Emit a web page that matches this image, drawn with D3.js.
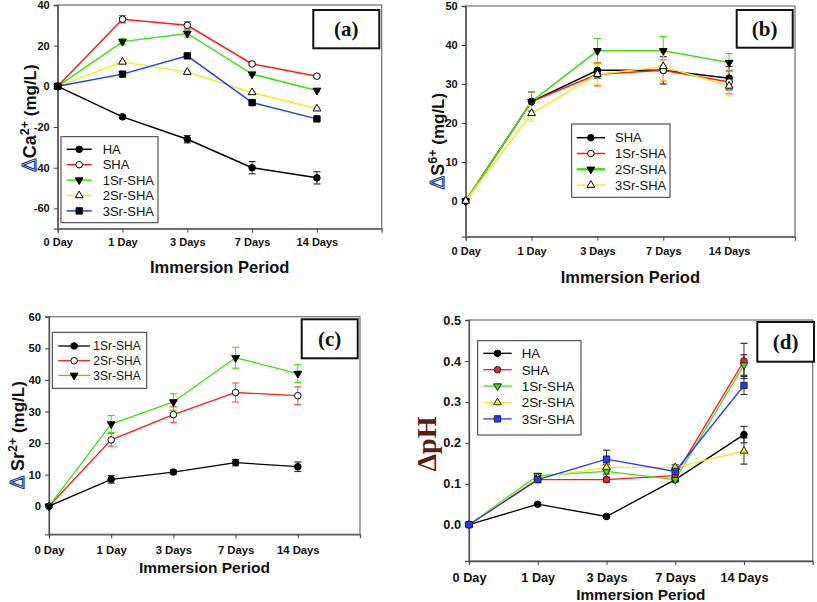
<!DOCTYPE html>
<html><head><meta charset="utf-8">
<script src="https://cdn.jsdelivr.net/npm/d3@7"></script>
<style>body{margin:0;background:#fff}svg{display:block}</style>
</head><body>
<svg id="c" width="817" height="602"></svg>
<script>
// ---------- DATA ----------
const days = ["0 Day", "1 Day", "3 Days", "7 Days", "14 Days"];

// (a) ΔCa2+
const caNames = ["HA", "SHA", "1Sr-SHA", "2Sr-SHA", "3Sr-SHA"];
const caHA = [0, -15, -26, -40, -45];
const caHAErr = [0, 0.8, 1.8, 3, 3];
const caSHA = [0, 33, 30, 11, 5];
const caSHAErr = [0, 1.8, 1.8, 0.6, 0.6];
const ca1Sr = [0, 22, 26, 6, -2];
const ca1SrErr = [0, 1.5, 1.8, 0.6, 0.6];
const ca2Sr = [0, 12, 7, -3, -11];
const ca2SrErr = [0, 0.6, 0.6, 0.6, 0.6];
const ca3Sr = [0, 6, 15, -8, -16];
const ca3SrErr = [0, 0.6, 0.8, 0.6, 0.6];
const caTicks = [-60, -40, -20, 0, 20, 40];

// (b) ΔS6+
const sNames = ["SHA", "1Sr-SHA", "2Sr-SHA", "3Sr-SHA"];
const sSHA = [0, 25.5, 33.5, 33.5, 31.5];
const sSHAErr = [0, 2.5, 2, 3.5, 3];
const s1Sr = [0, 25.5, 32.5, 33.5, 30.5];
const s1SrErr = [0, 2.5, 3, 2.7, 3];
const s2Sr = [0, 25.5, 38.5, 38.5, 35.5];
const s2SrErr = [0, 2.5, 3.2, 3.7, 2.3];
const s3Sr = [0, 22.5, 32.5, 34.5, 29.5];
const s3SrErr = [0, 2, 2.5, 3.5, 2.5];
const sTicks = [0, 10, 20, 30, 40, 50];

// (c) ΔSr2+
const srNames = ["1Sr-SHA", "2Sr-SHA", "3Sr-SHA"];
const sr1Sr = [0, 8.5, 10.8, 13.8, 12.5];
const sr1SrErr = [0, 1.2, 0.6, 1, 1.5];
const sr2Sr = [0, 21, 29, 36, 35];
const sr2SrErr = [0, 2, 2.5, 3, 2.8];
const sr3Sr = [0, 26, 33, 47, 42];
const sr3SrErr = [0, 2.7, 2.6, 3.3, 2.8];
const srTicks = [0, 10, 20, 30, 40, 50, 60];

// (d) ΔpH
const phNames = ["HA", "SHA", "1Sr-SHA", "2Sr-SHA", "3Sr-SHA"];
const phHA = [0, 0.05, 0.02, 0.11, 0.22];
const phHAErr = [0, 0.004, 0.004, 0.005, 0.02];
const phSHA = [0, 0.11, 0.11, 0.12, 0.40];
const phSHAErr = [0, 0.005, 0.006, 0.006, 0.043];
const ph1Sr = [0, 0.12, 0.13, 0.11, 0.39];
const ph1SrErr = [0, 0.005, 0.006, 0.005, 0.025];
const ph2Sr = [0, 0.115, 0.14, 0.14, 0.18];
const ph2SrErr = [0, 0.005, 0.008, 0.006, 0.032];
const ph3Sr = [0, 0.11, 0.16, 0.13, 0.34];
const ph3SrErr = [0, 0.006, 0.022, 0.01, 0.022];
const phTicks = [0, 0.1, 0.2, 0.3, 0.4, 0.5];

// ---------- STYLE ----------
const RED = "#ff1c1c", GREEN = "#3fe01a", YEL = "#eeee22", BLUE = "#1f3cff", BLK = "#000";
const svg = d3.select("#c");

function marker(g, type, x, y, fill, stroke) {
  const shapes = {
    circle: [d3.symbolCircle, 34, 0],
    tdown: [d3.symbolTriangle, 26, 180],
    tup: [d3.symbolTriangle, 26, 0],
    square: [d3.symbolSquare, 40, 0]
  };
  const s = shapes[type];
  g.append("path").attr("d", d3.symbol().type(s[0]).size(s[1])())
    .attr("transform", `translate(${x},${y}) rotate(${s[2]})`)
    .attr("fill", fill).attr("stroke", stroke).attr("stroke-width", 1);
}

function panel(p) {
  const g = svg.append("g");
  const x = d3.scaleLinear().domain([0, 5]).range([p.x0, p.x1]);
  const y = d3.scaleLinear().domain(p.yDomain).range([p.y1, p.y0]);
  // frame
  g.append("rect").attr("x", p.x0).attr("y", p.y0).attr("width", p.x1 - p.x0).attr("height", p.y1 - p.y0)
    .attr("fill", "none").attr("stroke", "#7a7a7a").attr("stroke-width", 1.3);
  // axes
  const yAx = d3.axisLeft(y).tickValues(p.ticks).tickSize(4).tickPadding(4).tickFormat(p.fmt);
  const ya = g.append("g").attr("transform", `translate(${p.x0},0)`).call(yAx);
  ya.select(".domain").attr("stroke", "#555").attr("stroke-width", 1.3);
  ya.selectAll(".tick line").attr("stroke", "#444");
  ya.selectAll("text").attr("font-family", "Arial, 'Liberation Sans', sans-serif").attr("font-weight", "bold")
    .attr("font-size", p.tickFont).attr("fill", "#111");
  const xAx = d3.axisBottom(x).tickValues([0, 1, 2, 3, 4]).tickSize(4).tickPadding(p.xPad).tickFormat(i => days[i]);
  const xa = g.append("g").attr("transform", `translate(0,${p.y1})`).call(xAx);
  xa.select(".domain").attr("stroke", "#555").attr("stroke-width", 1.3);
  xa.selectAll(".tick line").attr("stroke", "#444");
  xa.selectAll("text").attr("font-family", "Arial, 'Liberation Sans', sans-serif").attr("font-weight", "bold")
    .attr("font-size", p.tickFont).attr("fill", "#111");

  // series
  p.series.forEach(s => {
    const pts = s.v.map((v, i) => [x(i), y(v)]);
    s.e.forEach((e, i) => {
      if (e <= 0) return;
      const cx = x(i), t = y(s.v[i] + e), b = y(s.v[i] - e);
      const ec = s.ec || s.color;
      g.append("line").attr("x1", cx).attr("x2", cx).attr("y1", t).attr("y2", b).attr("stroke", ec).attr("stroke-width", 1);
      [t, b].forEach(yy => g.append("line").attr("x1", cx - 3.5).attr("x2", cx + 3.5).attr("y1", yy).attr("y2", yy)
        .attr("stroke", ec).attr("stroke-width", 1.2));
    });
    g.append("path").attr("d", d3.line()(pts)).attr("fill", "none").attr("stroke", s.color).attr("stroke-width", p.lw);
  });
  p.series.forEach(s => {
    s.v.forEach((v, i) => marker(g, s.m, x(i), y(v), s.mf, s.ms));
  });

  // legend
  const L = p.legend;
  g.append("rect").attr("x", L.x).attr("y", L.y).attr("width", L.w).attr("height", L.h)
    .attr("fill", "#fff").attr("stroke", "#333").attr("stroke-width", 1);
  p.series.forEach((s, i) => {
    const yy = L.r0 + i * L.dy;
    g.append("line").attr("x1", L.lx0).attr("x2", L.lx1).attr("y1", yy).attr("y2", yy)
      .attr("stroke", s.color).attr("stroke-width", p.lw + (s.lwExtra || 0));
    marker(g, s.m, (L.lx0 + L.lx1) / 2, yy, s.mf, s.ms);
    g.append("text").attr("x", L.tx).attr("y", yy).attr("dy", "0.36em").text(s.name)
      .attr("font-family", "Arial, 'Liberation Sans', sans-serif").attr("font-size", L.fs).attr("fill", "#111");
  });

  // label box
  const B = p.box;
  g.append("rect").attr("x", B.x).attr("y", B.y).attr("width", B.w).attr("height", B.h)
    .attr("fill", "#fff").attr("stroke", "#111").attr("stroke-width", 2);
  g.append("text").attr("x", B.x + B.w / 2).attr("y", B.y + B.h / 2).attr("dy", "0.34em").attr("text-anchor", "middle")
    .attr("font-family", "'Liberation Serif', 'Times New Roman', serif").attr("font-weight", "bold")
    .attr("font-size", 21).attr("fill", "#111").text(p.tag);

  // x title
  g.append("text").attr("x", (p.x0 + p.x1) / 2).attr("y", p.xTitleY).attr("dy", "0.35em").attr("text-anchor", "middle")
    .attr("font-family", "Arial, 'Liberation Sans', sans-serif").attr("font-weight", "bold")
    .attr("font-size", p.titleFont).attr("fill", "#111").text("Immersion Period");

  // y title
  const yt = g.append("text").attr("transform", `translate(${p.yTitleX},${p.yTitleY}) rotate(-90)`)
    .attr("text-anchor", "middle").attr("dy", "0.35em");
  p.yTitle(yt);
}

function arialTitle(delta, main, sup, extra) {
  return t => {
    t.attr("font-family", "Arial, 'Liberation Sans', sans-serif").attr("font-weight", "bold").attr("font-size", 17).attr("fill", "#111");
    t.append("tspan").text(delta).attr("font-weight", "normal").attr("font-size", 20)
      .attr("fill", "#fff").attr("stroke", "#1d3b95").attr("stroke-width", 1.1);
    t.append("tspan").text(main).attr("font-size", 18);
    t.append("tspan").text(sup).attr("font-size", 12.5).attr("dy", -7);
    t.append("tspan").text(extra).attr("dy", 7);
  };
}

// ---------- PANELS ----------
panel({
  tag: "(a)", x0: 57.7, x1: 381.7, y0: 5, y1: 228.7, yDomain: [-70, 40], ticks: caTicks, fmt: d => d,
  tickFont: 11, xPad: 6, lw: 1.5, titleFont: 16.5, xTitleY: 267,
  yTitleX: 30, yTitleY: 118, yTitle: arialTitle("Δ", "Ca", "2+", " (mg/L)"),
  series: [
    { name: caNames[0], v: caHA, e: caHAErr, color: BLK, ec: "#333", m: "circle", mf: BLK, ms: BLK },
    { name: caNames[1], v: caSHA, e: caSHAErr, color: RED, ec: "#d44", m: "circle", mf: "#fff", ms: BLK },
    { name: caNames[2], v: ca1Sr, e: ca1SrErr, color: GREEN, m: "tdown", mf: BLK, ms: BLK },
    { name: caNames[3], v: ca2Sr, e: ca2SrErr, color: YEL, ec: "#aaa", m: "tup", mf: "#fff", ms: BLK },
    { name: caNames[4], v: ca3Sr, e: ca3SrErr, color: BLUE, m: "square", mf: BLK, ms: BLK }
  ],
  legend: { x: 61, y: 136.7, w: 97, h: 86, r0: 149.3, dy: 15.4, lx0: 66.7, lx1: 91.7, tx: 102.7, fs: 13 },
  box: { x: 313.3, y: 10, w: 66, h: 38.3 }
});

panel({
  tag: "(b)", x0: 465.7, x1: 795, y0: 6, y1: 236.7, yDomain: [-9.15, 50], ticks: sTicks, fmt: d => d,
  tickFont: 11, xPad: 7, lw: 1.5, titleFont: 16.5, xTitleY: 277,
  yTitleX: 438, yTitleY: 141, yTitle: arialTitle("Δ", "S", "6+", " (mg/L)"),
  series: [
    { name: sNames[0], v: sSHA, e: sSHAErr, color: BLK, ec: "#333", m: "circle", mf: BLK, ms: BLK },
    { name: sNames[1], v: s1Sr, e: s1SrErr, color: RED, ec: "#f55", m: "circle", mf: "#fff", ms: BLK },
    { name: sNames[2], v: s2Sr, e: s2SrErr, color: GREEN, m: "tdown", mf: BLK, ms: BLK, lwExtra: 1 },
    { name: sNames[3], v: s3Sr, e: s3SrErr, color: YEL, m: "tup", mf: "#fff", ms: BLK }
  ],
  legend: { x: 571.7, y: 124, w: 98.3, h: 73.3, r0: 137.7, dy: 15.8, lx0: 576.7, lx1: 605, tx: 615, fs: 13 },
  box: { x: 736.7, y: 10, w: 56, h: 37.7 }
});

panel({
  tag: "(c)", x0: 49, x1: 360, y0: 316.7, y1: 534.3, yDomain: [-8.9, 60], ticks: srTicks, fmt: d => d,
  tickFont: 11.3, xPad: 8, lw: 1.3, titleFont: 15.5, xTitleY: 568,
  yTitleX: 18, yTitleY: 435, yTitle: arialTitle("Δ ", "Sr", "2+", " (mg/L)"),
  series: [
    { name: srNames[0], v: sr1Sr, e: sr1SrErr, color: BLK, ec: "#333", m: "circle", mf: BLK, ms: BLK },
    { name: srNames[1], v: sr2Sr, e: sr2SrErr, color: RED, ec: "#f55", m: "circle", mf: "#fff", ms: BLK },
    { name: srNames[2], v: sr3Sr, e: sr3SrErr, color: GREEN, m: "tdown", mf: BLK, ms: BLK }
  ],
  legend: { x: 52.3, y: 332.3, w: 94.4, h: 56, r0: 346, dy: 14.7, lx0: 58.3, lx1: 90, tx: 93.3, fs: 12 },
  box: { x: 301.7, y: 319.3, w: 56, h: 39 }
});

panel({
  tag: "(d)", x0: 469, x1: 812.7, y0: 320, y1: 561, yDomain: [-0.0887, 0.5], ticks: phTicks, fmt: d3.format(".1f"),
  tickFont: 12.7, xPad: 8, lw: 1.3, titleFont: 15.3, xTitleY: 595,
  yTitleX: 426, yTitleY: 444,
  yTitle: t => t.attr("font-family", "'Liberation Serif', 'Times New Roman', serif").attr("font-weight", "bold")
    .attr("font-size", 28).attr("fill", "#5a1e14").text("ΔpH"),
  series: [
    { name: phNames[0], v: phHA, e: phHAErr, color: BLK, ec: "#333", m: "circle", mf: BLK, ms: BLK },
    { name: phNames[1], v: phSHA, e: phSHAErr, color: RED, ec: "#333", m: "circle", mf: RED, ms: "#222" },
    { name: phNames[2], v: ph1Sr, e: ph1SrErr, color: GREEN, ec: "#333", m: "tdown", mf: GREEN, ms: "#222" },
    { name: phNames[3], v: ph2Sr, e: ph2SrErr, color: YEL, ec: "#333", m: "tup", mf: YEL, ms: "#222" },
    { name: phNames[4], v: ph3Sr, e: ph3SrErr, color: BLUE, ec: "#333", m: "square", mf: BLUE, ms: "#222" }
  ],
  legend: { x: 477.7, y: 340.7, w: 103.3, h: 94.3, r0: 353.3, dy: 16.4, lx0: 483.3, lx1: 511.7, tx: 521.7, fs: 13.4 },
  box: { x: 757.3, y: 322, w: 56.7, h: 39.7 }
});
</script>
</body></html>
